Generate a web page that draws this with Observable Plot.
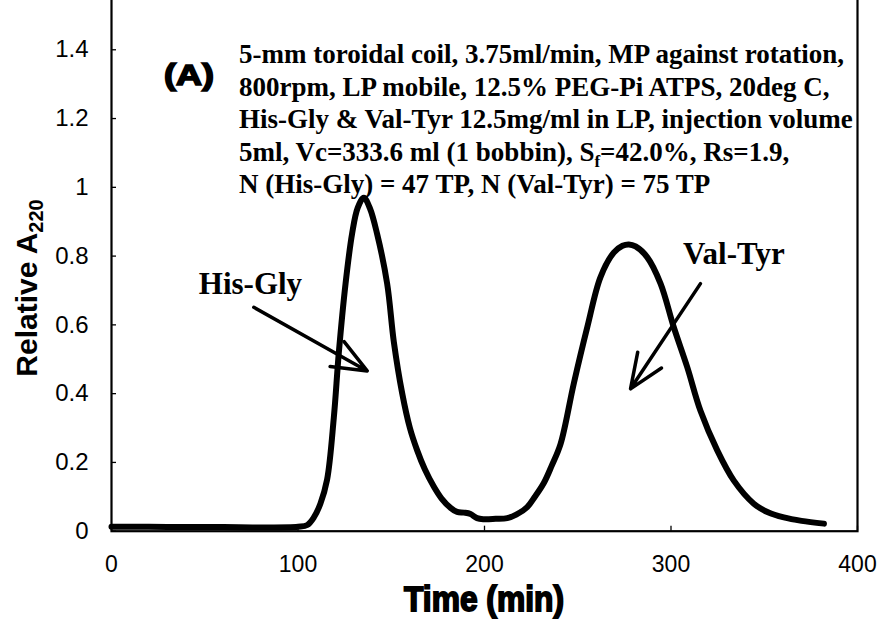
<!DOCTYPE html>
<html><head><meta charset="utf-8">
<script src="https://cdn.jsdelivr.net/npm/d3@7"></script>
<script src="https://cdn.jsdelivr.net/npm/@observablehq/plot@0.6"></script>
<style>body{margin:0;background:#fff;overflow:hidden} svg{display:block}</style>
</head><body><div id="chart"></div>
<script>
const time = [0, 20, 40, 60, 80, 100, 105, 108.5, 112, 115.6, 119.2, 121.9, 125.5, 129, 132, 135.3, 138.5, 142.4, 147.8, 151.4, 155.9, 160, 163.9, 168, 172.8, 177, 181.8, 185.3, 189, 192.5, 196, 199.6, 206, 212.2, 217, 222.9, 227, 231.8, 236, 240.8, 247.9, 255.1, 262.2, 269.3, 274, 277.4, 281, 287.2, 294.4, 301.5, 308.7, 315.8, 324.8, 333.7, 344.4, 352, 360.5, 370, 382];
const absorbance = [0.013, 0.013, 0.012, 0.012, 0.011, 0.013, 0.018, 0.04, 0.08, 0.15, 0.33, 0.52, 0.72, 0.865, 0.94, 0.97, 0.94, 0.865, 0.72, 0.55, 0.40, 0.30, 0.235, 0.18, 0.13, 0.095, 0.068, 0.056, 0.054, 0.05, 0.038, 0.035, 0.036, 0.038, 0.048, 0.07, 0.10, 0.14, 0.19, 0.254, 0.43, 0.593, 0.739, 0.81, 0.83, 0.834, 0.828, 0.797, 0.72, 0.593, 0.477, 0.35, 0.235, 0.147, 0.08, 0.055, 0.04, 0.03, 0.022];

const xTicks = [0, 100, 200, 300, 400];
const yTicks = [0, 0.2, 0.4, 0.6, 0.8, 1, 1.2, 1.4];
const xDomain = [0, 400];
const yDomain = [0, 1.6];

const peakNames = ["His-Gly", "Val-Tyr"];
const peakLabelTime = [74.5, 333.7];
const peakLabelValue = [0.72, 0.807];
const arrowFromTime = [76.3, 315.8];
const arrowFromValue = [0.651, 0.72];
const arrowToTime = [137.1, 278.3];
const arrowToValue = [0.466, 0.414];

const panelLabel = "(A)";
const conditionLines = [
  [["5-mm toroidal coil, 3.75ml/min, MP against rotation,", false]],
  [["800rpm, LP mobile, 12.5% PEG-Pi ATPS, 20deg C,", false]],
  [["His-Gly & Val-Tyr 12.5mg/ml in LP, injection volume", false]],
  [["5ml, Vc=333.6 ml (1 bobbin), S", false], ["f", true], ["=42.0%, Rs=1.9,", false]],
  [["N (His-Gly) = 47 TP, N (Val-Tyr) = 75 TP", false]]
];
const xTitle = "Time (min)";
const yTitleMain = "Relative A";
const yTitleSub = "220";

const curve = time.map((t, i) => ({t, a: absorbance[i]}));
const peaks = peakNames.map((name, i) => ({
  name, lt: peakLabelTime[i], lv: peakLabelValue[i],
  x1: arrowFromTime[i], y1: arrowFromValue[i], x2: arrowToTime[i], y2: arrowToValue[i]
}));

const W = 885, H = 630;
const plot = Plot.plot({
  width: W, height: H,
  marginLeft: 111, marginRight: 28, marginTop: -19.5, marginBottom: 99.3,
  style: {fontFamily: "'Liberation Sans', Arial, sans-serif", fontSize: "23px", color: "#000", background: "#fff", overflow: "hidden"},
  x: {domain: xDomain, ticks: xTicks},
  y: {domain: yDomain, ticks: yTicks},
  marks: [
    Plot.frame({stroke: "#000", strokeWidth: 2.2}),
    Plot.axisX(xTicks, {tickSize: -5, tickFormat: () => "", strokeWidth: 1.3}),
    Plot.axisX(xTicks, {tickSize: 0, tickPadding: 24, label: null, fontSize: 23, tickFormat: d => String(d)}),
    Plot.axisY(yTicks, {tickSize: -5, tickFormat: () => "", strokeWidth: 1.3}),
    Plot.axisY(yTicks, {tickSize: 0, tickPadding: 23, label: null, fontSize: 24, tickFormat: d => String(d)}),
    Plot.line(curve, {x: "t", y: "a", stroke: "#000", strokeWidth: 6, curve: "catmull-rom", strokeLinejoin: "round", strokeLinecap: "round"}),
    Plot.arrow(peaks, {x1: "x1", y1: "y1", x2: "x2", y2: "y2", stroke: "#000", strokeWidth: 3.5, headLength: 16, headAngle: 45}),
    Plot.text(peaks, {x: "lt", y: "lv", text: "name", fontFamily: "'Liberation Serif', 'Times New Roman', serif", fontWeight: "bold", fontSize: 31, fill: "#000"})
  ]
});
document.getElementById("chart").appendChild(plot);

const svg = d3.select(plot);
const sx = plot.scale("x"), sy = plot.scale("y");

// panel label
svg.append("text").attr("x", 189).attr("y", 85).attr("text-anchor", "middle")
  .attr("font-family", "'Liberation Sans', Arial, sans-serif").attr("font-weight", "bold")
  .attr("font-size", 30).attr("stroke", "#000").attr("stroke-width", 1.6)
  .attr("textLength", 50).attr("lengthAdjust", "spacingAndGlyphs").text(panelLabel);

// condition text
const cond = svg.append("g").attr("font-family", "'Liberation Serif', 'Times New Roman', serif")
  .attr("font-weight", "bold").attr("font-size", 27).attr("fill", "#000").attr("text-anchor", "start");
conditionLines.forEach((segs, i) => {
  const t = cond.append("text").attr("x", 239).attr("y", 63 + i * 32.5);
  segs.forEach(([s, sub]) => {
    const ts = t.append("tspan").text(s);
    if (sub) ts.attr("font-size", 17).attr("dy", 6);
    else if (s.startsWith("=")) ts.attr("dy", -6);
  });
});

// x title
svg.append("text").attr("x", (sx.apply(0) + sx.apply(400)) / 2).attr("y", 611).attr("text-anchor", "middle")
  .attr("font-family", "'Liberation Sans', Arial, sans-serif").attr("font-weight", "bold")
  .attr("font-size", 35).attr("stroke", "#000").attr("stroke-width", 1.8)
  .attr("textLength", 160).attr("lengthAdjust", "spacingAndGlyphs").text(xTitle);

// y title
const yt = svg.append("text").attr("transform", `translate(37, 288) rotate(-90)`)
  .attr("text-anchor", "middle").attr("font-family", "'Liberation Sans', Arial, sans-serif")
  .attr("font-weight", "bold").attr("font-size", 30);
yt.append("tspan").text(yTitleMain);
yt.append("tspan").attr("font-size", 20).attr("dy", 6).text(yTitleSub);
</script>
</body></html>
